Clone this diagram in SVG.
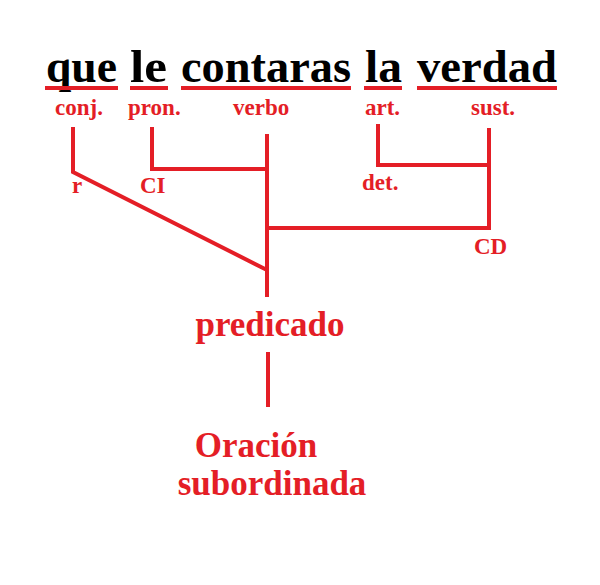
<svg xmlns="http://www.w3.org/2000/svg" width="600" height="585" viewBox="0 0 600 585">
<style>
.w{font-family:"Liberation Serif","Times New Roman",serif;font-weight:bold;font-size:47px;fill:#000}
.l{font-family:"Liberation Serif","Times New Roman",serif;font-weight:bold;font-size:23px;fill:#e41e26}
.b{font-family:"Liberation Serif","Times New Roman",serif;font-weight:bold;font-size:35px;fill:#e41e26;text-anchor:middle}
.ln{stroke:#e41e26;stroke-width:4;fill:none;stroke-linecap:butt}
</style>
<rect width="600" height="585" fill="#fff"/>
<g id="sentence">
<text class="w" x="46" y="82" textLength="71" lengthAdjust="spacingAndGlyphs">que</text>
<text class="w" x="130" y="82" textLength="37" lengthAdjust="spacingAndGlyphs">le</text>
<text class="w" x="181" y="82" textLength="170" lengthAdjust="spacingAndGlyphs">contaras</text>
<text class="w" x="365" y="82" textLength="37" lengthAdjust="spacingAndGlyphs">la</text>
<text class="w" x="417" y="82" textLength="140" lengthAdjust="spacingAndGlyphs">verdad</text>
</g>
<g id="underlines" class="ln">
<line x1="45" y1="88" x2="118" y2="88"/>
<line x1="130" y1="88" x2="168" y2="88"/>
<line x1="181" y1="88" x2="351" y2="88"/>
<line x1="364" y1="88" x2="402" y2="88"/>
<line x1="417" y1="88" x2="557" y2="88"/>
</g>
<g id="labels">
<text class="l" x="55" y="115">conj.</text>
<text class="l" x="128" y="115">pron.</text>
<text class="l" x="233" y="115">verbo</text>
<text class="l" x="365" y="115">art.</text>
<text class="l" x="471" y="115">sust.</text>
<text class="l" x="72" y="193">r</text>
<text class="l" x="140" y="193">CI</text>
<text class="l" x="362" y="190">det.</text>
<text class="l" x="474" y="254">CD</text>
</g>
<g id="connectors" class="ln">
<polyline points="73,127 73,172 267,270"/>
<polyline points="152,127 152,169 267,169"/>
<line x1="267" y1="134" x2="267" y2="297"/>
<line x1="267" y1="228" x2="490" y2="228"/>
<polyline points="378,124 378,165 490,165"/>
<line x1="489" y1="128" x2="489" y2="230"/>
<line x1="268" y1="352" x2="268" y2="407"/>
</g>
<g id="predicado"><text class="b" x="270" y="336">predicado</text></g>
<g id="oracion">
<text class="b" x="256" y="457">Oración</text>
<text class="b" x="272" y="495">subordinada</text>
</g>
</svg>
